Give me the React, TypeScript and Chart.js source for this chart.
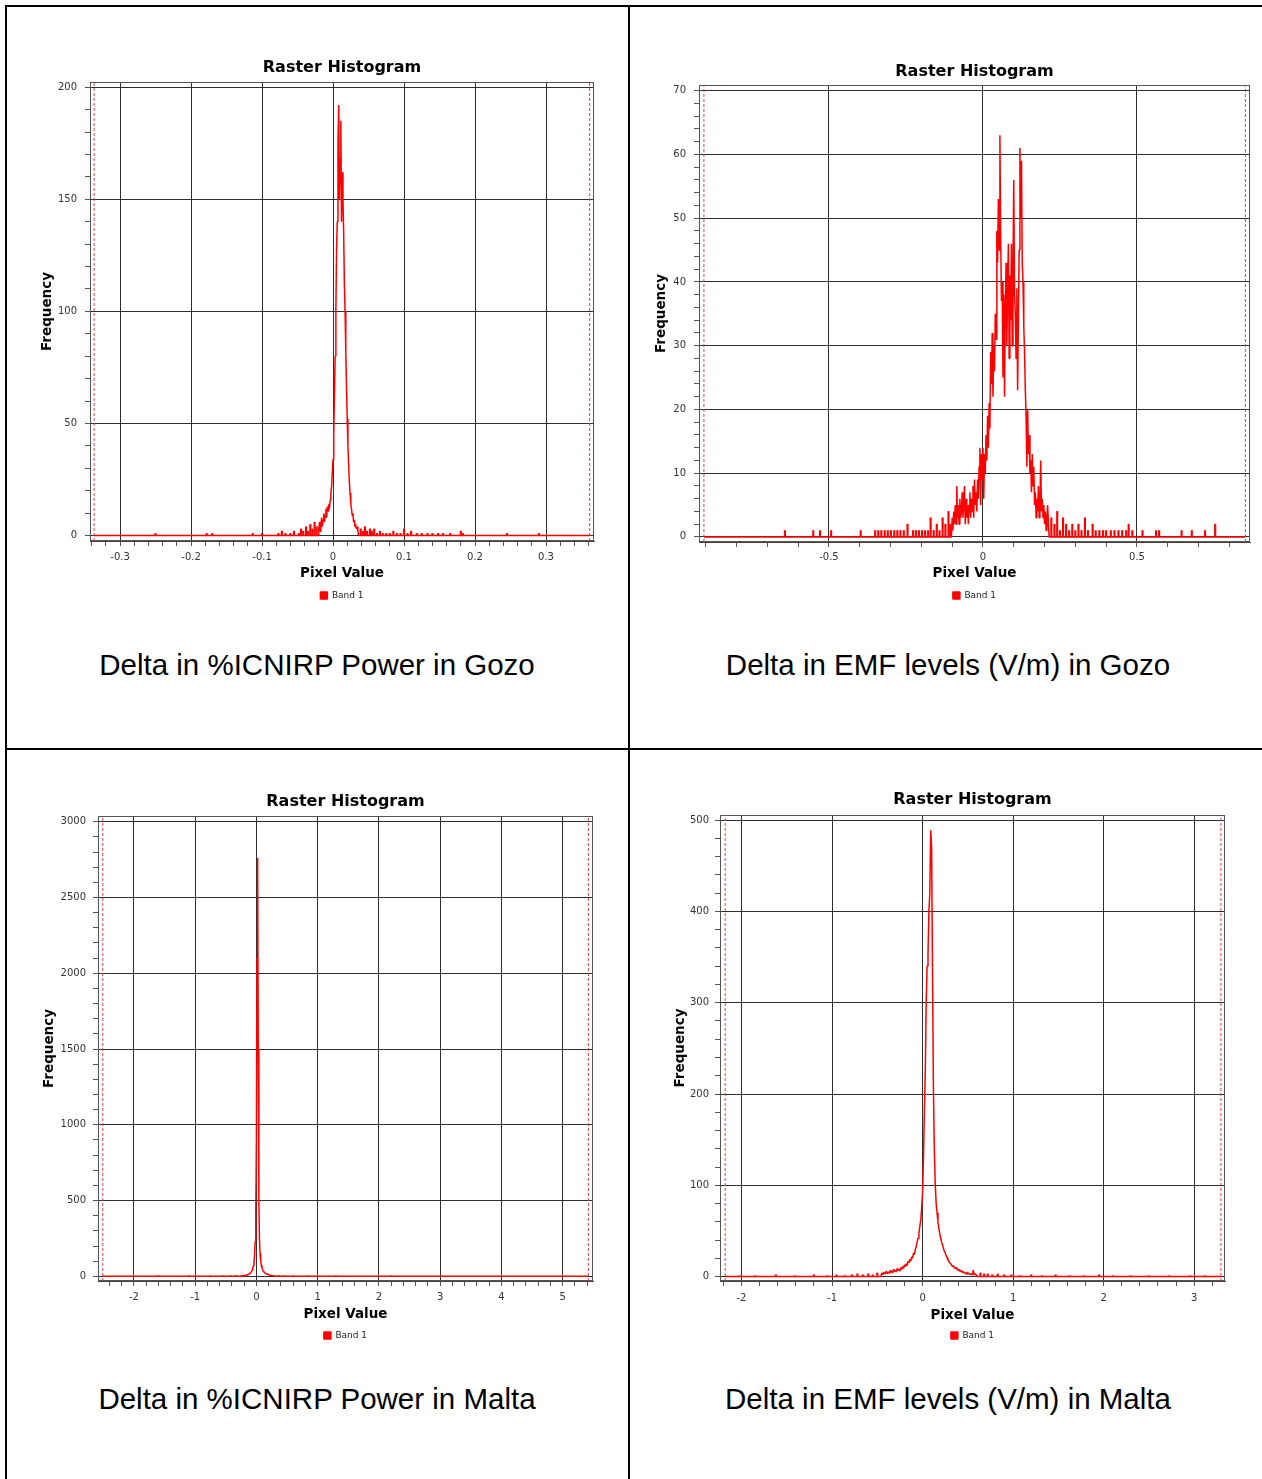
import React, { useEffect, useRef } from "react";
import { Chart, registerables } from "chart.js";

Chart.register(...registerables);

const AXIS_FONT = '"DejaVu Sans", Verdana, sans-serif';
const CAPTION_FONT = '"Liberation Sans", Arial, sans-serif';
const GRID = "#2e2e2e";
const RED = "#ff0000";
const MARKER = "#d04848";

// ===== Delta in %ICNIRP Power in Gozo =====
const gozoPowerCoreStart = -0.021;
const gozoPowerCoreStep = 0.001;
const gozoPowerCore = [
  0, 3, 6, 2, 5, 8, 4, 7, 10, 6, 9, 12, 8, 13, 11, 14, 12, 16, 19, 22, 28,
  34, 45, 62, 80, 100, 128, 140, 175, 192, 150, 168, 185, 140, 162, 150, 135,
  112, 100, 82, 66, 52, 40, 32, 24, 19, 14, 12, 9, 10, 6, 7, 4, 5, 3, 4, 2, 0,
];
const gozoPowerTailX = [
  -0.25, -0.178, -0.17, -0.113, -0.1, -0.077, -0.072, -0.067, -0.06, -0.055,
  -0.048, -0.045, -0.042, -0.038, -0.035, -0.032, -0.029, -0.026, -0.023,
  0.039, 0.042, 0.045, 0.048, 0.052, 0.055, 0.058, 0.062, 0.066, 0.07, 0.075,
  0.08, 0.085, 0.09, 0.095, 0.1, 0.105, 0.11, 0.118, 0.125, 0.133, 0.14,
  0.148, 0.155, 0.165, 0.18, 0.183, 0.245, 0.29,
];
const gozoPowerTailY = [
  1, 1, 1, 1, 1, 1, 2, 1, 1, 2, 1, 3, 2, 4, 2, 5, 3, 6, 4,
  3, 2, 4, 2, 3, 2, 3, 1, 2, 1, 1,
  1, 2, 1, 1, 3, 1, 2, 1, 1, 1, 1,
  1, 1, 1, 2, 1, 1, 1,
];
const gozoPowerMinMax = [-0.3365, 0.3615];
const gozoPowerXTicks = [-0.3, -0.2, -0.1, 0, 0.1, 0.2, 0.3];
const gozoPowerXLabels = ["-0.3", "-0.2", "-0.1", "0", "0.1", "0.2", "0.3"];
const gozoPowerYTicks = [0, 50, 100, 150, 200];
const gozoPowerYLabels = ["0", "50", "100", "150", "200"];

// ===== Delta in EMF levels (V/m) in Gozo =====
const gozoEmfCoreStart = -0.1025;
const gozoEmfCoreStep = 0.0025;
const gozoEmfCore = [
  0, 3, 1, 4, 2, 5, 2, 8, 3, 5, 2, 6, 3, 4, 7, 3, 5, 8, 2, 6, 3, 5, 2, 5, 7,
  3, 6, 4, 8, 3, 9, 5, 7, 4, 9, 6, 11, 14, 5, 13, 9, 14, 6, 13, 10, 16, 12,
  19, 14, 21, 17, 29, 24, 32, 22, 30, 26, 35, 31, 48, 43, 53, 45, 63, 47, 37,
  40, 25, 38, 22, 36, 43, 30, 38, 46, 28, 41, 34, 46, 30, 42, 56, 38, 35, 28,
  39, 23, 34, 45, 61, 50, 59, 43, 40, 33, 29, 23, 19, 11, 20, 13, 16, 10, 12,
  7, 13, 8, 11, 5, 7, 3, 6, 4, 8, 3, 5, 12, 4, 6, 3, 5, 2, 4, 1, 3, 5, 2, 0,
];
const gozoEmfTailX = [
  -0.643, -0.551, -0.529, -0.493, -0.397, -0.35, -0.34, -0.33, -0.319,
  -0.309, -0.299, -0.288, -0.278, -0.268, -0.257, -0.245, -0.227, -0.218,
  -0.208, -0.198, -0.188, -0.178, -0.17, -0.16, -0.15, -0.141, -0.131,
  -0.122, -0.112, -0.106,
  0.222, 0.232, 0.241, 0.25, 0.26, 0.27, 0.28, 0.29, 0.3, 0.31, 0.32, 0.331,
  0.341, 0.356, 0.366, 0.378, 0.39, 0.4, 0.415, 0.427, 0.44, 0.452, 0.465,
  0.473, 0.485, 0.518, 0.562, 0.572, 0.645, 0.678, 0.721, 0.754,
];
const gozoEmfTailY = [
  1, 1, 1, 1, 1, 1, 1, 1, 1, 1, 1, 1, 1, 1, 1, 2, 1, 1, 1, 1, 1, 1, 3, 1, 2,
  1, 3, 2, 4, 2,
  3, 2, 4, 1, 3, 2, 1, 2, 1, 2, 1, 3, 1, 2, 1, 1, 1, 1, 1, 1, 1, 1, 1, 2, 1,
  1, 1, 1, 1, 1, 1, 2,
];
const gozoEmfMinMax = [-0.906, 0.852];
const gozoEmfXTicks = [-0.5, 0, 0.5];
const gozoEmfXLabels = ["-0.5", "0", "0.5"];
const gozoEmfYTicks = [0, 10, 20, 30, 40, 50, 60, 70];
const gozoEmfYLabels = ["0", "10", "20", "30", "40", "50", "60", "70"];

// ===== Delta in %ICNIRP Power in Malta =====
const maltaPowerCoreStart = -0.26;
const maltaPowerCoreStep = 0.01;
const maltaPowerCore = [
  0, 3, 2, 4, 3, 5, 4, 6, 5, 8, 7, 10, 12, 11, 15, 18, 22, 26, 32, 40, 52, 68,
  95, 140, 230, 420, 900, 2100, 2760, 1500, 520, 240, 150, 100, 75, 58, 45, 36,
  30, 26, 22, 19, 17, 15, 13, 12, 10, 9, 8, 7, 6, 5, 4, 4, 3, 2, 2, 0,
];
const maltaPowerTailX = [
  -1.6, -1.1, -0.75, -0.55, -0.42, -0.33, 0.36, 0.45, 0.6, 0.85, 1.3, 2.2,
];
const maltaPowerTailY = [1, 1, 2, 3, 4, 5, 5, 4, 2, 2, 1, 1];
const maltaPowerMinMax = [-2.508, 5.42];
const maltaPowerXTicks = [-2, -1, 0, 1, 2, 3, 4, 5];
const maltaPowerXLabels = ["-2", "-1", "0", "1", "2", "3", "4", "5"];
const maltaPowerYTicks = [0, 500, 1000, 1500, 2000, 2500, 3000];
const maltaPowerYLabels = ["0", "500", "1000", "1500", "2000", "2500", "3000"];

// ===== Delta in EMF levels (V/m) in Malta =====
const maltaEmfCoreStart = -0.46;
const maltaEmfCoreStep = 0.01;
const maltaEmfCore = [
  0, 4, 2, 5, 3, 4, 6, 3, 5, 4, 7, 5, 6, 4, 8, 6, 7, 5, 9, 7, 8, 6, 10, 8, 11,
  9, 13, 11, 14, 12, 17, 15, 19, 17, 22, 20, 26, 24, 30, 33, 38, 42, 48, 55,
  62, 75, 92, 130, 180, 225, 300, 340, 352, 400, 420, 489, 470, 330, 205, 138,
  102, 80, 70, 60, 53, 47, 42, 38, 35, 31, 28, 26, 23, 21, 18, 17, 15, 14, 13,
  11, 12, 10, 9, 10, 8, 7, 8, 6, 7, 5, 6, 4, 5, 4, 3, 5, 3, 4, 3, 2, 3, 2, 7,
  2, 3, 2, 1, 0,
];
const maltaEmfTailX = [
  -2.02, -1.85, -1.62, -1.41, -1.2, -1.05, -0.95, -0.86, -0.78, -0.72, -0.66,
  -0.6, -0.55, -0.5, 0.64, 0.68, 0.72, 0.77, 0.83, 0.9, 0.98, 1.08, 1.2, 1.32,
  1.47, 1.62, 1.78, 1.95, 2.1, 2.3, 2.5, 2.72, 2.95, 3.12,
];
const maltaEmfTailY = [
  1, 1, 2, 1, 2, 1, 2, 1, 2, 3, 2, 3, 2, 4, 4, 3, 3, 2, 3, 2, 2, 1, 2, 1, 2, 1,
  1, 2, 1, 1, 1, 1, 1, 1,
];
const maltaEmfMinMax = [-2.18, 3.295];
const maltaEmfXTicks = [-2, -1, 0, 1, 2, 3];
const maltaEmfXLabels = ["-2", "-1", "0", "1", "2", "3"];
const maltaEmfYTicks = [0, 100, 200, 300, 400, 500];
const maltaEmfYLabels = ["0", "100", "200", "300", "400", "500"];

const captions = [
  "Delta in %ICNIRP Power in Gozo",
  "Delta in EMF levels (V/m) in Gozo",
  "Delta in %ICNIRP Power in Malta",
  "Delta in EMF levels (V/m) in Malta",
];

// ----- layout / style specs (positions kept out of the data arrays) -----
const specs = [
  {
    key: "gp", left: 30, top: 50, w: 580, h: 560,
    yAxisWidth: 60, xAxisHeight: 46, padRight: 16,
    titlePad: { top: 8.4, bottom: 4.4 }, xTitlePadBottom: 5.9, yTitlePadTop: 8.9,
    xTickPad: 5, yTickPad: 8,
    xMin: -0.3423, xMax: 0.3676, yMin: -2.4, yMax: 202.3, xMinor: 0.02, yMinor: 10,
    coreStart: gozoPowerCoreStart, coreStep: gozoPowerCoreStep, core: gozoPowerCore,
    tailX: gozoPowerTailX, tailY: gozoPowerTailY, minMax: gozoPowerMinMax,
    xTicks: gozoPowerXTicks, xLabels: gozoPowerXLabels, yTicks: gozoPowerYTicks, yLabels: gozoPowerYLabels,
  },
  {
    key: "ge", left: 640, top: 50, w: 622, h: 560,
    yAxisWidth: 59, xAxisHeight: 45, padRight: 12,
    titlePad: { top: 12.4, bottom: 3.4 }, xTitlePadBottom: 5.9, yTitlePadTop: 12.9,
    xTickPad: 4, yTickPad: 8,
    xMin: -0.922, xMax: 0.867, yMin: -0.8, yMax: 70.9, xMinor: 0.1, yMinor: 2,
    coreStart: gozoEmfCoreStart, coreStep: gozoEmfCoreStep, core: gozoEmfCore,
    tailX: gozoEmfTailX, tailY: gozoEmfTailY, minMax: gozoEmfMinMax,
    xTicks: gozoEmfXTicks, xLabels: gozoEmfXLabels, yTicks: gozoEmfYTicks, yLabels: gozoEmfYLabels,
  },
  {
    key: "mp", left: 30, top: 780, w: 580, h: 570,
    yAxisWidth: 68, xAxisHeight: 46, padRight: 17,
    titlePad: { top: 12.4, bottom: 4.4 }, xTitlePadBottom: 4.9, yTitlePadTop: 10.9,
    xTickPad: 5, yTickPad: 7,
    xMin: -2.586, xMax: 5.495, yMin: -31, yMax: 3038, xMinor: 0.2, yMinor: 100,
    coreStart: maltaPowerCoreStart, coreStep: maltaPowerCoreStep, core: maltaPowerCore,
    tailX: maltaPowerTailX, tailY: maltaPowerTailY, minMax: maltaPowerMinMax,
    xTicks: maltaPowerXTicks, xLabels: maltaPowerXLabels, yTicks: maltaPowerYTicks, yLabels: maltaPowerYLabels,
  },
  {
    key: "me", left: 660, top: 780, w: 602, h: 570,
    yAxisWidth: 60, xAxisHeight: 46, padRight: 37,
    titlePad: { top: 10.4, bottom: 5.4 }, xTitlePadBottom: 3.9, yTitlePadTop: 11.9,
    xTickPad: 6, yTickPad: 6,
    xMin: -2.237, xMax: 3.34, yMin: -4.8, yMax: 505.6, xMinor: 0.2, yMinor: 20,
    coreStart: maltaEmfCoreStart, coreStep: maltaEmfCoreStep, core: maltaEmfCore,
    tailX: maltaEmfTailX, tailY: maltaEmfTailY, minMax: maltaEmfMinMax,
    xTicks: maltaEmfXTicks, xLabels: maltaEmfXLabels, yTicks: maltaEmfYTicks, yLabels: maltaEmfYLabels,
  },
];

function stepTicks(min: number, max: number, step: number) {
  const out: { value: number }[] = [];
  const k0 = Math.ceil(min / step - 1e-9);
  const k1 = Math.floor(max / step + 1e-9);
  for (let k = k0; k <= k1; k++) out.push({ value: Number((k * step).toFixed(6)) });
  return out;
}

function isIn(list: number[], v: number) {
  return list.findIndex((t) => Math.abs(t - v) < 1e-6);
}

const framePlugin = {
  id: "frame",
  beforeDatasetsDraw(chart: any) {
    const { ctx, chartArea: a } = chart;
    ctx.save();
    ctx.strokeStyle = "#555";
    ctx.lineWidth = 1;
    ctx.strokeRect(
      Math.round(a.left) + 0.5,
      Math.round(a.top) + 0.5,
      Math.round(a.right - a.left) - 1,
      Math.round(a.bottom - a.top) - 1
    );
    ctx.restore();
  },
};

function Histogram({ spec }: { spec: any }) {
  const ref = useRef<HTMLCanvasElement | null>(null);
  useEffect(() => {
    if (!ref.current) return;
    const s = spec;
    const corePts = s.core.map((v: number, i: number) => ({ x: s.coreStart + i * s.coreStep, y: v }));
    const linePts = [{ x: s.minMax[0], y: 0 }, ...corePts, { x: s.minMax[1], y: 0 }];
    const tailPts = s.tailX.map((x: number, i: number) => ({ x, y: s.tailY[i] }));
    const tickFont = { family: AXIS_FONT, size: 10 };
    const titleFont = { family: AXIS_FONT, size: 13.5, weight: "bold" as const };
    const chart = new Chart(ref.current, {
      type: "line",
      data: {
        datasets: [
          {
            label: "Band 1",
            data: linePts,
            borderColor: RED,
            backgroundColor: RED,
            borderWidth: 1.5,
            pointRadius: 0,
            tension: 0,
            fill: false,
            borderJoinStyle: "bevel",
          } as any,
          {
            type: "bar",
            label: "tails",
            data: tailPts,
            backgroundColor: RED,
            borderWidth: 0,
            barThickness: 1.5,
          } as any,
          {
            label: "min",
            data: [{ x: s.minMax[0], y: s.yMin }, { x: s.minMax[0], y: s.yMax }],
            borderColor: MARKER,
            borderWidth: 1,
            borderDash: [3, 2],
            pointRadius: 0,
            fill: false,
          } as any,
          {
            label: "max",
            data: [{ x: s.minMax[1], y: s.yMin }, { x: s.minMax[1], y: s.yMax }],
            borderColor: MARKER,
            borderWidth: 1,
            borderDash: [3, 2],
            pointRadius: 0,
            fill: false,
          } as any,
        ],
      },
      options: {
        responsive: false,
        animation: false,
        events: [],
        layout: { padding: { left: 0, right: s.padRight, top: 0, bottom: 0 }, autoPadding: false } as any,
        plugins: {
          title: {
            display: true,
            text: "Raster Histogram",
            fullSize: false,
            color: "#000",
            font: { family: AXIS_FONT, size: 16, weight: "bold" },
            padding: s.titlePad,
          } as any,
          legend: {
            display: true,
            position: "bottom",
            fullSize: false,
            labels: {
              boxWidth: 7,
              boxHeight: 7,
              padding: 4,
              color: "#222",
              font: { family: AXIS_FONT, size: 9 },
              filter: (item: any) => item.text === "Band 1",
            },
          } as any,
          tooltip: { enabled: false },
        },
        scales: {
          x: {
            type: "linear",
            min: s.xMin,
            max: s.xMax,
            bounds: "data",
            offset: false,
            afterBuildTicks: (sc: any) => {
              sc.ticks = stepTicks(s.xMin, s.xMax, s.xMinor);
            },
            afterFit: (sc: any) => {
              sc.height = s.xAxisHeight;
            },
            ticks: {
              autoSkip: false,
              maxRotation: 0,
              minRotation: 0,
              padding: s.xTickPad,
              color: "#333",
              font: tickFont,
              callback: (v: any) => {
                const i = isIn(s.xTicks, Number(v));
                return i >= 0 ? s.xLabels[i] : "";
              },
            },
            grid: {
              color: (c: any) => (c.tick && isIn(s.xTicks, c.tick.value) >= 0 ? GRID : "rgba(0,0,0,0)"),
              lineWidth: 1,
              tickLength: 5,
              tickColor: "#555",
              offset: false,
            },
            border: { display: true, color: "#444", width: 1 },
            title: {
              display: true,
              text: "Pixel Value",
              color: "#000",
              font: titleFont,
              padding: { top: 0, bottom: s.xTitlePadBottom },
            },
          } as any,
          y: {
            type: "linear",
            min: s.yMin,
            max: s.yMax,
            bounds: "data",
            afterBuildTicks: (sc: any) => {
              sc.ticks = stepTicks(s.yMin, s.yMax, s.yMinor);
            },
            afterFit: (sc: any) => {
              sc.width = s.yAxisWidth;
            },
            ticks: {
              autoSkip: false,
              padding: s.yTickPad,
              color: "#333",
              font: tickFont,
              callback: (v: any) => {
                const i = isIn(s.yTicks, Number(v));
                return i >= 0 ? s.yLabels[i] : "";
              },
            },
            grid: {
              color: (c: any) => (c.tick && isIn(s.yTicks, c.tick.value) >= 0 ? GRID : "rgba(0,0,0,0)"),
              lineWidth: 1,
              tickLength: 5,
              tickColor: "#555",
            },
            border: { display: true, color: "#444", width: 1 },
            title: {
              display: true,
              text: "Frequency",
              color: "#000",
              font: titleFont,
              padding: { top: s.yTitlePadTop, bottom: 0 },
            },
          } as any,
        },
      },
      plugins: [framePlugin],
    });
    return () => chart.destroy();
  }, [spec]);
  return (
    <canvas
      ref={ref}
      width={spec.w}
      height={spec.h}
      style={{ position: "absolute", left: spec.left, top: spec.top, width: spec.w, height: spec.h }}
    />
  );
}

const lineStyle = (left: number, top: number, width: number, height: number): React.CSSProperties => ({
  position: "absolute",
  left,
  top,
  width,
  height,
  background: "#000",
});

const captionBoxes = [
  { left: 5, top: 648, width: 624 },
  { left: 630, top: 648, width: 636 },
  { left: 5, top: 1382, width: 624 },
  { left: 630, top: 1382, width: 636 },
];

export default function App() {
  return (
    <div
      style={{
        position: "absolute",
        left: 0,
        top: 0,
        width: 1262,
        height: 1479,
        background: "#fff",
        overflow: "hidden",
      }}
    >
      <div style={lineStyle(5, 5, 1257, 2)} />
      <div style={lineStyle(5, 5, 2, 1474)} />
      <div style={lineStyle(628, 5, 2, 1474)} />
      <div style={lineStyle(5, 748, 1257, 2)} />
      {captions.map((c, i) => (
        <div
          key={c}
          style={{
            position: "absolute",
            left: captionBoxes[i].left,
            top: captionBoxes[i].top,
            width: captionBoxes[i].width,
            textAlign: "center",
            fontFamily: CAPTION_FONT,
            fontSize: 29.5,
            lineHeight: "34px",
            color: "#000",
            whiteSpace: "nowrap",
          }}
        >
          {c}
        </div>
      ))}
      {specs.map((s) => (
        <Histogram key={s.key} spec={s} />
      ))}
    </div>
  );
}
